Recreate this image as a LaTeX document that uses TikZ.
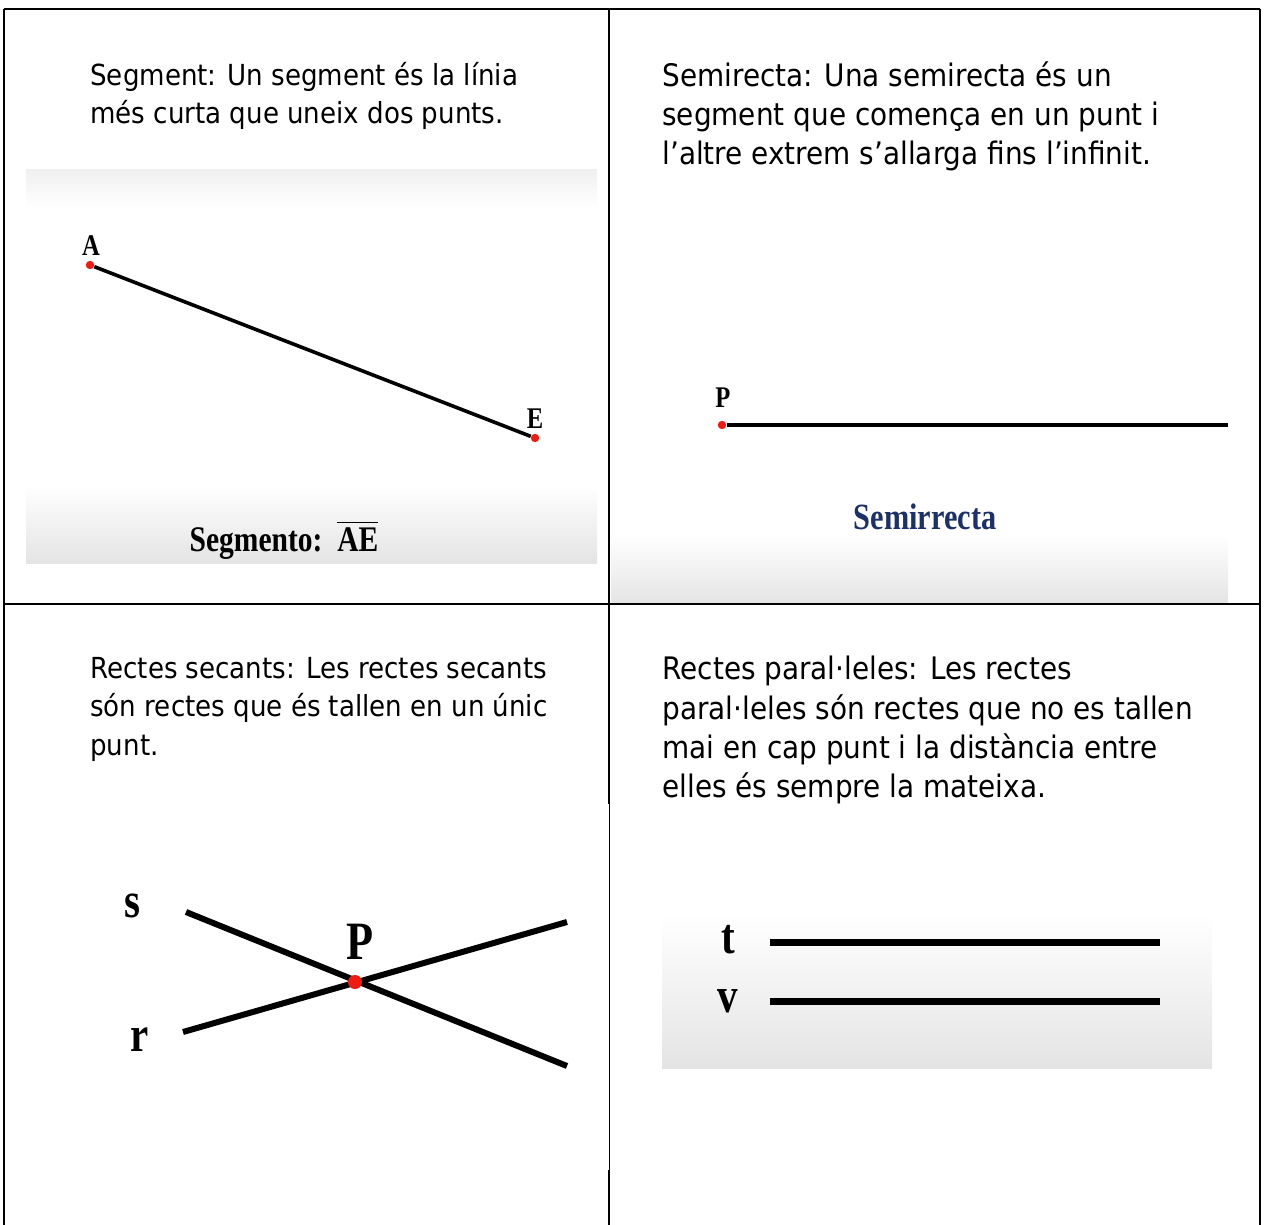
\documentclass[tikz,border=0pt]{standalone}
\usepackage{fontspec}
\usepackage{amsmath}
\setmainfont[FakeStretch=0.9]{DejaVu Sans}
\newfontfamily\figfont[FakeStretch=0.82]{Liberation Serif}
\usetikzlibrary{positioning}

\definecolor{dotred}{RGB}{240,28,18}
\definecolor{titleblue}{RGB}{28,48,105}
\definecolor{panelgray}{RGB}{228,228,228}

\begin{document}
\begin{tikzpicture}[x=0.5pt, y=-0.5pt,
		cell_text/.style={anchor=north west,inner sep=0pt,align=left,font=\fontsize{14.5}{19.2}\selectfont},
		cell_text_r/.style={cell_text,font=\fontsize{15.5}{19.6}\selectfont},
		dot_style/.style={circle,fill=dotred,inner sep=0pt,minimum size=4.2pt},
		big_dot/.style={dot_style,minimum size=7pt},
		pt_label/.style={inner sep=0pt,font=\figfont\bfseries\fontsize{15}{15}\selectfont},
		line_label/.style={inner sep=0pt,font=\figfont\bfseries\fontsize{25}{25}\selectfont},
		grid_style/.style={draw=black,line width=1pt},
		thin_edge/.style={draw=black,line width=1.8pt},
		thick_edge/.style={draw=black,line width=3pt},
		par_edge/.style={draw=black,line width=3.5pt}]
		
		\useasboundingbox (0,0) rectangle (1264,1225);
		
		% panels
		\shade[top color=panelgray!55,bottom color=white] (26,170) rectangle (597,208);
		\shade[top color=white,bottom color=panelgray] (26,485) rectangle (597,563);
		\shade[top color=white,bottom color=panelgray] (611,535) rectangle (1228,604);
		\shade[top color=white,bottom color=panelgray] (662,915) rectangle (1212,1068);
		
		% table
		\draw[grid_style] (4,9) -- (1260,9);
		\draw[grid_style] (4,9) -- (4,1225);
		\draw[grid_style] (1260,9) -- (1260,1225);
		\draw[grid_style] (4,604) -- (1260,604);
		\draw[grid_style] (609,9) -- (609,804);
		\draw[draw=black,line width=0.5pt] (609.5,804) -- (609.5,1170);
		\draw[grid_style] (609,1170) -- (609,1225);
		
		% texts
		\node[cell_text] (txt_seg) at (90,62) {Segment: Un segment és la línia\\més curta que uneix dos punts.};
		\node[cell_text_r] (txt_semi) at (662,61) {Semirecta: Una semirecta és un\\segment que comença en un punt i\\l’altre extrem s’allarga fins l’infinit.};
		\node[cell_text] (txt_sec) at (90,657) {Rectes secants: Les rectes secants\\són rectes que és tallen en un únic\\punt.};
		\node[cell_text_r] (txt_par) at (662,656) {Rectes paral·leles: Les rectes\\paral·leles són rectes que no es tallen\\mai en cap punt i la distància entre\\elles és sempre la mateixa.};
		
		% segment
		\node[dot_style] (pt_a) at (90,265) {};
		\node[dot_style] (pt_e) at (535,438) {};
		\draw[thin_edge] (pt_a) -- (pt_e);
		\node[pt_label] (lab_a) at (91,246) {A};
		\node[pt_label] (lab_e) at (535,419) {E};
		\node[pt_label,font=\figfont\bfseries\fontsize{18}{18}\selectfont] (lab_seg) at (284,540) {Segmento:\ \ $\overline{\hbox{AE}}$};
		
		% semirrecta
		\node[dot_style] (pt_p) at (722,425) {};
		\coordinate (ray_end) at (1228,425);
		\draw[thin_edge] (pt_p) -- (ray_end);
		\node[pt_label] (lab_p) at (723,398) {P};
		\node[pt_label,text=titleblue,font=\figfont\bfseries\fontsize{18.5}{18.5}\selectfont] (lab_semi) at (925,517) {Semirrecta};
		
		% secants
		\coordinate (s_a) at (186,912);
		\coordinate (s_b) at (567,1066);
		\coordinate (r_a) at (183,1032);
		\coordinate (r_b) at (567,922);
		\draw[thick_edge] (s_a) -- (s_b);
		\draw[thick_edge] (r_a) -- (r_b);
		\node[big_dot] (pt_x) at (355,982) {};
		\node[line_label] (lab_s) at (132,906) {s};
		\node[line_label] (lab_r) at (140,1040) {r};
		\node[line_label,font=\figfont\bfseries\fontsize{27}{27}\selectfont] (lab_x) at (360,942) {P};
		
		% parallels
		\coordinate (t_a) at (770,942);
		\coordinate (t_b) at (1160,942);
		\coordinate (v_a) at (770,1001);
		\coordinate (v_b) at (1160,1001);
		\draw[par_edge] (t_a) -- (t_b);
		\draw[par_edge] (v_a) -- (v_b);
		\node[line_label] (lab_t) at (728,940) {t};
		\node[line_label] (lab_v) at (728,1001) {v};
		
\end{tikzpicture}
\end{document}
